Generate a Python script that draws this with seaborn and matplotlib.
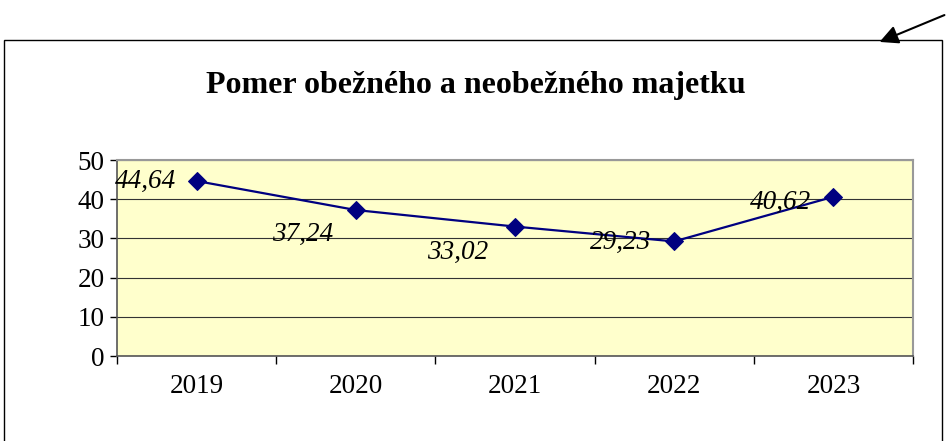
import matplotlib
matplotlib.use("Agg")
import matplotlib.pyplot as plt
from matplotlib.patches import Rectangle, FancyArrowPatch
from matplotlib.ticker import FixedLocator
import pandas as pd
import seaborn as sb

# data
years = ["2019", "2020", "2021", "2022", "2023"]
ratio = [44.64, 37.24, 33.02, 29.23, 40.62]
labels = ["44,64", "37,24", "33,02", "29,23", "40,62"]

df = pd.DataFrame({"year": years, "ratio": ratio})

sb.set_style("white")
plt.rcParams["font.family"] = ["Liberation Serif", "DejaVu Serif"]
plt.rcParams["text.color"] = "black"
plt.rcParams["xtick.color"] = "black"
plt.rcParams["ytick.color"] = "black"

fig = plt.figure(figsize=(9.47, 4.41), dpi=100)
W, H = 947, 441

# outer chart frame (runs off the bottom of the picture)
fig.patches.append(Rectangle((4 / W, -0.05), (942 - 4) / W, 1 - 40 / H + 0.05,
                             transform=fig.transFigure, fill=False,
                             edgecolor="black", linewidth=1.0))
# the arrow in the top right corner
fig.patches.append(FancyArrowPatch(
    (947 / W, 1 - 14 / H), (877 / W, 1 - 43 / H), transform=fig.transFigure,
    arrowstyle="-|>", mutation_scale=28, color="black", linewidth=1.5))

fig.text((207 + 745) / 2 / W, 1 - 85 / H, "Pomer obežného a neobežného majetku",
         ha="center", va="center", fontsize=23, fontweight="bold")

ax = fig.add_axes([117 / W, 1 - 356 / H, (913 - 117) / W, (356 - 160) / H])
ax.set_facecolor("#FFFFCC")

sb.lineplot(data=df, x="year", y="ratio", ax=ax, color="#000080",
            linewidth=1.6, marker="D", markersize=9, markeredgecolor="#000080")

# data labels, Excel placed them left of the points
offsets = [(-51, 0), (-53, -24), (-57, -26), (-54, -1), (-53, -6)]
for i, (lab, off) in enumerate(zip(labels, offsets)):
    ax.annotate(lab, (i, ratio[i]), xytext=(off[0] * 0.72, off[1] * 0.72),
                textcoords="offset points", ha="center", va="center",
                fontsize=19.5, fontstyle="italic")

ax.set_xlim(-0.5, 4.5)
ax.set_ylim(0, 50)
ax.set_yticks(range(0, 51, 10))
ax.yaxis.grid(True, color="#333333", linewidth=0.8)
ax.xaxis.grid(False)
ax.set_xlabel("")
ax.set_ylabel("")

ax.xaxis.set_minor_locator(FixedLocator([-0.5, 0.5, 1.5, 2.5, 3.5, 4.5]))
ax.tick_params(axis="x", which="major", length=0, labelsize=19.5, pad=13)
ax.tick_params(axis="x", which="minor", length=6, width=1, color="black",
               direction="out", bottom=True)
ax.tick_params(axis="y", length=5, width=1, color="black", direction="out",
               left=True, labelsize=19.5, pad=4)

for side in ["top", "right"]:
    ax.spines[side].set_color("#999999")
    ax.spines[side].set_linewidth(1.5)
for side in ["left", "bottom"]:
    ax.spines[side].set_color("#555555")
    ax.spines[side].set_linewidth(1.2)

fig.savefig("out.png", dpi=100)
